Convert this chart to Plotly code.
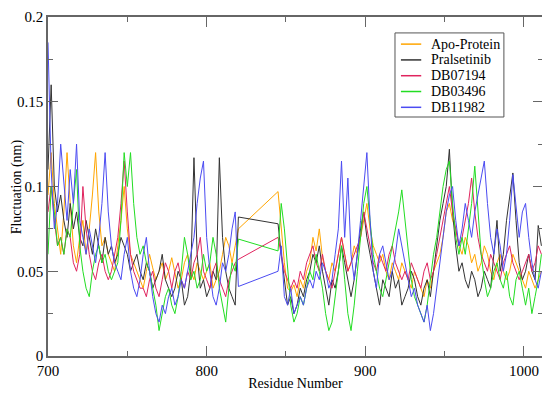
import plotly.graph_objects as go

# residue numbers (gap 820-845 has no data; lines connect across it)
res_a = list(range(700, 821, 2))
res_b = list(range(845, 1012, 2))
residues = res_a + res_b

series_names = ["Apo-Protein", "Pralsetinib", "DB07194", "DB03496", "DB11982"]
series_colors = ["#FFA500", "#333333", "#E0245E", "#22DD22", "#4B4BF2"]

apo_a = [0.095, 0.12, 0.09, 0.075, 0.06, 0.085, 0.12, 0.09, 0.065, 0.055,
         0.07, 0.08, 0.06, 0.075, 0.095, 0.12, 0.085, 0.065, 0.07, 0.06,
         0.055, 0.05, 0.065, 0.08, 0.1, 0.075, 0.06, 0.055, 0.05, 0.045,
         0.04, 0.05, 0.06, 0.052, 0.045, 0.05, 0.055, 0.045, 0.05, 0.058,
         0.048, 0.04, 0.045, 0.055, 0.06, 0.05, 0.045, 0.055, 0.05, 0.045,
         0.05, 0.055, 0.04, 0.045, 0.05, 0.06, 0.07, 0.065, 0.055, 0.065,
         0.075]
apo_b = [0.097, 0.075, 0.055, 0.04, 0.038, 0.042, 0.035, 0.045, 0.04, 0.05,
         0.055, 0.07, 0.062, 0.075, 0.058, 0.05, 0.045, 0.055, 0.05, 0.06,
         0.07, 0.06, 0.05, 0.055, 0.065, 0.06, 0.07, 0.08, 0.09, 0.075,
         0.065, 0.06, 0.055, 0.06, 0.05, 0.045, 0.055, 0.05, 0.045, 0.055,
         0.05, 0.045, 0.04, 0.05, 0.045, 0.04, 0.035, 0.045, 0.04, 0.05,
         0.055, 0.06, 0.07, 0.085, 0.09, 0.08, 0.075, 0.065, 0.06, 0.07,
         0.065, 0.055, 0.06, 0.05, 0.055, 0.065, 0.06, 0.05, 0.045, 0.055,
         0.06, 0.05, 0.045, 0.05, 0.06, 0.055, 0.05, 0.045, 0.04, 0.05,
         0.045, 0.04, 0.045, 0.05]

pral_a = [0.11, 0.16, 0.1, 0.085, 0.095, 0.08, 0.07, 0.09, 0.075, 0.085,
          0.07, 0.065, 0.08, 0.07, 0.06, 0.075, 0.065, 0.055, 0.07, 0.06,
          0.065, 0.055, 0.06, 0.07, 0.065, 0.06, 0.05, 0.055, 0.06, 0.05,
          0.045, 0.055, 0.05, 0.04, 0.045, 0.05, 0.06, 0.045, 0.04, 0.035,
          0.04, 0.05, 0.045, 0.03, 0.035, 0.05, 0.117, 0.06, 0.04, 0.045,
          0.035, 0.04, 0.05, 0.045, 0.117, 0.07, 0.05, 0.04, 0.035, 0.03,
          0.082]
pral_b = [0.078, 0.06, 0.045, 0.03, 0.035, 0.025, 0.03, 0.04, 0.035, 0.045,
          0.05, 0.06, 0.055, 0.065, 0.05, 0.04, 0.03, 0.045, 0.04, 0.05,
          0.065, 0.055, 0.045, 0.035, 0.045, 0.06, 0.075, 0.085, 0.07, 0.06,
          0.05, 0.04, 0.03, 0.045, 0.04, 0.035, 0.05, 0.04, 0.045, 0.03,
          0.035, 0.04, 0.05, 0.045, 0.035, 0.03, 0.04, 0.045, 0.035, 0.05,
          0.065, 0.08, 0.09, 0.1, 0.122, 0.085, 0.065, 0.05, 0.055, 0.045,
          0.04, 0.05, 0.045, 0.035, 0.04, 0.05, 0.045, 0.04, 0.06, 0.08,
          0.05, 0.06, 0.08, 0.095, 0.108, 0.08, 0.055, 0.045, 0.05, 0.06,
          0.05, 0.045, 0.077, 0.065]

db07_a = [0.085, 0.1, 0.08, 0.065, 0.07, 0.06, 0.075, 0.07, 0.055, 0.05,
          0.06, 0.1, 0.075, 0.06, 0.05, 0.045, 0.055, 0.06, 0.05, 0.045,
          0.05, 0.06, 0.07, 0.09, 0.115, 0.085, 0.06, 0.05, 0.045, 0.04,
          0.04, 0.035, 0.045, 0.05, 0.04, 0.035, 0.045, 0.055, 0.05, 0.04,
          0.05, 0.055, 0.045, 0.04, 0.05, 0.045, 0.055, 0.06, 0.07, 0.05,
          0.045, 0.04, 0.05, 0.055, 0.045, 0.04, 0.035, 0.045, 0.05, 0.055,
          0.057]
db07_b = [0.07, 0.06, 0.05, 0.045, 0.04, 0.045, 0.04, 0.05, 0.045, 0.055,
          0.06, 0.065, 0.055, 0.05, 0.06, 0.05, 0.045, 0.04, 0.05, 0.06,
          0.07, 0.06, 0.05, 0.055, 0.06, 0.065, 0.07, 0.085, 0.075, 0.065,
          0.055, 0.05, 0.06, 0.055, 0.05, 0.06, 0.065, 0.055, 0.05, 0.045,
          0.05, 0.045, 0.055, 0.05, 0.045, 0.04, 0.05, 0.055, 0.045, 0.05,
          0.06, 0.07, 0.08, 0.09, 0.1, 0.085, 0.075, 0.065, 0.07, 0.08,
          0.09, 0.105, 0.085, 0.07, 0.06, 0.055, 0.05, 0.06, 0.055, 0.05,
          0.045, 0.055, 0.06, 0.065, 0.055, 0.05, 0.045, 0.05, 0.055, 0.06,
          0.05, 0.055, 0.065, 0.06]

db03_a = [0.06, 0.1, 0.085, 0.065, 0.07, 0.06, 0.075, 0.07, 0.09, 0.11,
          0.065, 0.05, 0.04, 0.035, 0.05, 0.06, 0.065, 0.055, 0.06, 0.05,
          0.045, 0.05, 0.055, 0.08, 0.12, 0.1, 0.12, 0.09, 0.07, 0.06,
          0.065, 0.055, 0.05, 0.04, 0.03, 0.015, 0.025, 0.035, 0.04, 0.03,
          0.025, 0.035, 0.05, 0.07, 0.06, 0.045, 0.05, 0.04, 0.045, 0.06,
          0.05, 0.055, 0.07, 0.06, 0.04, 0.03, 0.02, 0.04, 0.055, 0.05,
          0.069]
db03_b = [0.062, 0.09, 0.075, 0.05, 0.03, 0.02, 0.025, 0.035, 0.03, 0.04,
          0.05, 0.045, 0.06, 0.05, 0.04, 0.025, 0.015, 0.02, 0.035, 0.05,
          0.065, 0.045, 0.025, 0.015, 0.03, 0.05, 0.07, 0.09, 0.1, 0.08,
          0.06, 0.05, 0.04, 0.035, 0.045, 0.055, 0.065, 0.075, 0.085, 0.098,
          0.08, 0.06, 0.045, 0.035, 0.03, 0.025, 0.02, 0.03, 0.045, 0.06,
          0.07, 0.085, 0.1, 0.11, 0.115, 0.09, 0.07, 0.06, 0.07, 0.06,
          0.075, 0.09, 0.112, 0.085, 0.06, 0.045, 0.035, 0.04, 0.05, 0.055,
          0.045, 0.04, 0.05, 0.035, 0.03, 0.045, 0.05, 0.04, 0.03, 0.04,
          0.025, 0.035, 0.045, 0.06]

db11_a = [0.185, 0.11, 0.075, 0.09, 0.125, 0.1, 0.08, 0.11, 0.09, 0.125,
          0.08, 0.07, 0.06, 0.075, 0.065, 0.055, 0.07, 0.09, 0.12, 0.085,
          0.065, 0.055, 0.05, 0.045, 0.06, 0.07, 0.05, 0.04, 0.035, 0.045,
          0.06, 0.07, 0.05, 0.035, 0.025, 0.02, 0.03, 0.025, 0.035, 0.04,
          0.03, 0.035, 0.045, 0.04, 0.05, 0.06, 0.07, 0.09, 0.105, 0.115,
          0.07, 0.05, 0.035, 0.03, 0.04, 0.055, 0.05, 0.06, 0.075, 0.085,
          0.041]
db11_b = [0.05, 0.065, 0.035, 0.03, 0.04, 0.025, 0.03, 0.035, 0.03, 0.04,
          0.045, 0.04, 0.05, 0.045, 0.055, 0.05, 0.04, 0.045, 0.06, 0.075,
          0.115, 0.07, 0.105, 0.06, 0.045, 0.06, 0.08, 0.1, 0.12, 0.08,
          0.05, 0.04, 0.06, 0.065, 0.055, 0.045, 0.05, 0.06, 0.075, 0.065,
          0.055, 0.045, 0.035, 0.04, 0.03, 0.025, 0.02, 0.03, 0.015, 0.025,
          0.04, 0.055, 0.07, 0.085, 0.095, 0.1, 0.08, 0.065, 0.075, 0.09,
          0.08, 0.07, 0.085, 0.095, 0.105, 0.115, 0.09, 0.07, 0.06, 0.075,
          0.065, 0.05, 0.06, 0.08, 0.107, 0.09, 0.07, 0.085, 0.09, 0.07,
          0.055, 0.045, 0.04, 0.05]

series_values = [apo_a + apo_b, pral_a + pral_b, db07_a + db07_b,
                 db03_a + db03_b, db11_a + db11_b]

x_ticks = [700, 800, 900, 1000]
y_ticks = [0, 0.05, 0.1, 0.15, 0.2]
y_tick_text = ["0", "0.05", "0.1", "0.15", "0.2"]

fig = go.Figure()
for name, color, vals in zip(series_names, series_colors, series_values):
    fig.add_trace(go.Scatter(x=residues, y=vals, mode="lines", name=name,
                             line=dict(color=color, width=1)))

serif = "Liberation Serif"
tick_font = dict(family=serif, size=15, color="black")
title_font = dict(family=serif, size=14, color="black")
axis_color = "#666666"

# legend drawn as a boxed key (paper coordinates)
leg_x0, leg_x1, leg_top, leg_bot = 0.701, 0.921, 0.953, 0.705
leg_line_x0, leg_line_x1, leg_text_x = 0.713, 0.754, 0.770
leg_first_y, leg_step = 0.920, 0.0466
fig.add_shape(type="rect", xref="paper", yref="paper",
              x0=leg_x0, x1=leg_x1, y0=leg_bot, y1=leg_top,
              line=dict(color="#555555", width=1), fillcolor="white", layer="above")
for i, (name, color) in enumerate(zip(series_names, series_colors)):
    yy = leg_first_y - i * leg_step
    fig.add_shape(type="line", xref="paper", yref="paper",
                  x0=leg_line_x0, x1=leg_line_x1, y0=yy, y1=yy,
                  line=dict(color=color, width=1.5), layer="above")
    fig.add_annotation(xref="paper", yref="paper", x=leg_text_x, y=yy,
                       xanchor="left", yanchor="middle", showarrow=False,
                       text=name, font=dict(family=serif, size=14, color="black"))

# y-axis title placed close to the left edge, as in the reference
fig.add_annotation(xref="paper", yref="paper", x=-0.063, y=0.5,
                   xanchor="center", yanchor="middle", showarrow=False,
                   textangle=-90, text="Fluctuation (nm)", font=title_font)

# page is shown with an ~8px body margin, so the figure is sized to fit
fig.update_layout(
    width=542, height=386,
    margin=dict(l=40, r=7, t=9, b=38, autoexpand=False),
    paper_bgcolor="white", plot_bgcolor="white",
    font=dict(family=serif, size=15, color="black"),
    showlegend=False,
)
fig.update_xaxes(
    range=[700, 1012], tickvals=x_ticks, showgrid=False, zeroline=False,
    automargin=False,
    showline=True, linecolor=axis_color, linewidth=1.5, mirror="ticks",
    ticks="inside", ticklen=10, tickcolor=axis_color, tickwidth=1.2,
    minor=dict(dtick=50, tick0=700, ticks="inside", ticklen=5,
               tickcolor=axis_color, showgrid=False),
    tickfont=tick_font,
    title=dict(text="Residue Number", font=title_font, standoff=0),
)
fig.update_yaxes(
    range=[0, 0.2], tickvals=y_ticks, ticktext=y_tick_text, showgrid=False,
    zeroline=False, automargin=False, ticklabeloverflow="allow",
    showline=True, linecolor=axis_color, linewidth=1.5,
    mirror="ticks", ticks="inside", ticklen=10, tickcolor=axis_color,
    tickwidth=1.2,
    minor=dict(dtick=0.025, tick0=0, ticks="inside", ticklen=5,
               tickcolor=axis_color, showgrid=False),
    tickfont=tick_font,
)
fig.write_html("out.html")
